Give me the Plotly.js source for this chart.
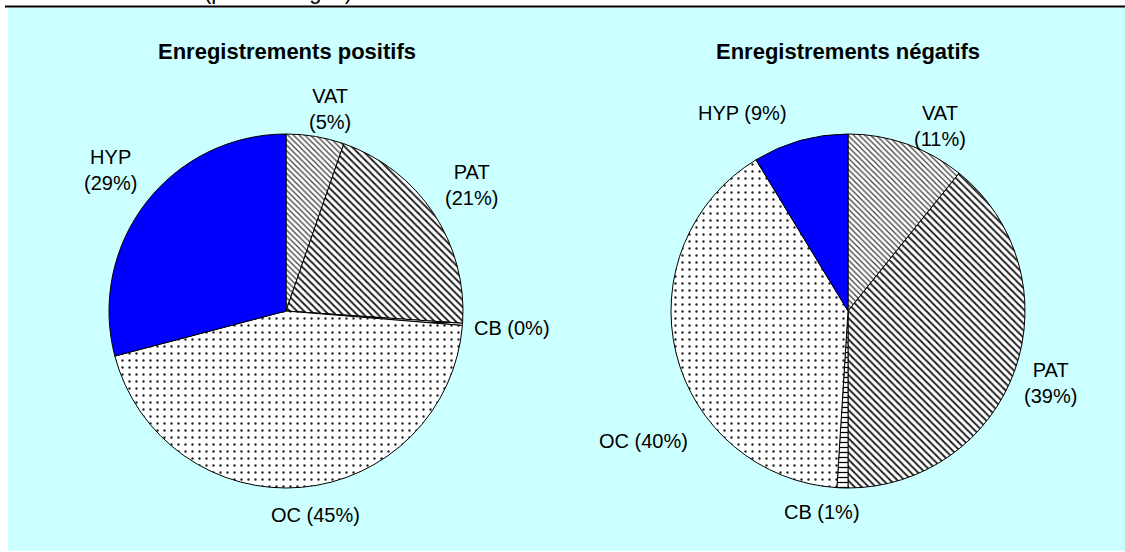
<!DOCTYPE html>
<html>
<head>
<meta charset="utf-8">
<script src="https://cdn.plot.ly/plotly-3.0.1.min.js"></script>
<style>html,body{margin:0;padding:0;background:#fff;}#chart{width:1125px;height:552px;}</style>
</head>
<body>
<div id="chart"></div>
<script>
// ---- data ----
const categories = ["VAT", "PAT", "CB", "OC", "HYP"];
const positiveValues = [5.3, 20.8, 0.2, 44.6, 29.1];
const negativeValues = [10.8, 39.2, 1.0, 40.3, 8.7];
const positiveTitle = "Enregistrements positifs";
const negativeTitle = "Enregistrements négatifs";
const headerText = "(pourcentages)";

// ---- layout / styling (pixel positions, not data) ----
const W = 1125, H = 552;
const FONT = "Arial, 'Liberation Sans', sans-serif";
const px = x => x / W;
const py = y => 1 - y / H;

// label placement: [x, y, twoLine]
const positiveLabelPos = [[330, 109, true], [471, 185, true], [512, 328, false], [315, 515, false], [110, 170, true]];
const negativeLabelPos = [[940, 126, true], [1050, 383, true], [822, 512, false], [643, 441, false], [742, 113, false]];

const markerStyle = {
  colors: ["#ffffff", "#ffffff", "#ffffff", "#ffffff", "#0000ff"],
  line: { color: "#000000", width: 1 },
  pattern: {
    shape: ["\\", "\\", "-", ".", ""],
    fgcolor: ["#3a3a3a", "#222222", "#000000", "#222222", "#000000"],
    bgcolor: ["#ffffff", "#ffffff", "#ffffff", "#ffffff", "#0000ff"],
    size: [4, 5, 5, 7, 8],
    solidity: [0.3, 0.4, 0.25, 0.09, 0.0],
    fillmode: "replace"
  }
};

function pieTrace(values, cx, cy, r) {
  return {
    type: "pie",
    labels: categories,
    values: values,
    sort: false,
    direction: "clockwise",
    rotation: 0,
    textinfo: "none",
    hoverinfo: "label+percent",
    marker: markerStyle,
    automargin: false,
    domain: { x: [px(cx - r), px(cx + r)], y: [py(cy + r), py(cy - r)] },
    showlegend: false
  };
}

function labelAnnotations(values, pos) {
  const total = values.reduce((a, b) => a + b, 0);
  return values.map((v, i) => {
    const pct = Math.round(v / total * 100) + "%";
    const [x, y, two] = pos[i];
    return {
      text: categories[i] + (two ? "<br>" : " ") + "(" + pct + ")",
      xref: "paper", yref: "paper", x: px(x), y: py(y),
      xanchor: "center", yanchor: "middle", showarrow: false,
      font: { family: FONT, size: 20, color: "#000000" }
    };
  });
}

const data = [
  pieTrace(positiveValues, 286, 311, 177),
  pieTrace(negativeValues, 848, 311, 177)
];

const layout = {
  width: W, height: H,
  margin: { l: 0, r: 0, t: 0, b: 0 },
  paper_bgcolor: "#ffffff",
  showlegend: false,
  font: { family: FONT, color: "#000000" },
  shapes: [
    { type: "rect", xref: "paper", yref: "paper", x0: px(8), x1: px(1125), y0: py(551), y1: py(8),
      fillcolor: "#ccffff", line: { width: 0 }, layer: "below" },
    { type: "line", xref: "paper", yref: "paper", x0: px(5), x1: px(1125), y0: py(6.5), y1: py(6.5),
      line: { color: "#000000", width: 2 } }
  ],
  annotations: [
    { text: "<b>" + positiveTitle + "</b>", xref: "paper", yref: "paper", x: px(287), y: py(52),
      xanchor: "center", yanchor: "middle", showarrow: false, font: { family: FONT, size: 22, color: "#000" } },
    { text: "<b>" + negativeTitle + "</b>", xref: "paper", yref: "paper", x: px(848), y: py(52),
      xanchor: "center", yanchor: "middle", showarrow: false, font: { family: FONT, size: 22, color: "#000" } },
    { text: headerText, xref: "paper", yref: "paper", x: px(202), y: py(6), xanchor: "left", yanchor: "bottom",
      showarrow: false, font: { family: FONT, size: 22, color: "#000" } }
  ].concat(labelAnnotations(positiveValues, positiveLabelPos), labelAnnotations(negativeValues, negativeLabelPos))
};

Plotly.newPlot("chart", data, layout, { displayModeBar: false, staticPlot: true });
</script>
</body>
</html>
